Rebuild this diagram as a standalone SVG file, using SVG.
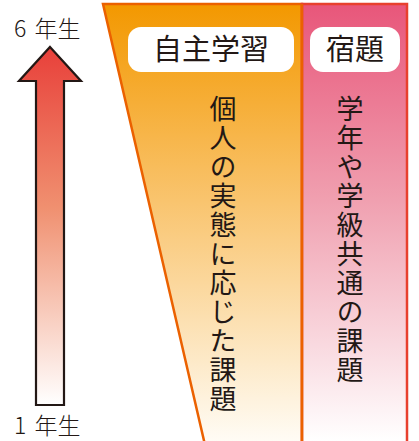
<svg xmlns="http://www.w3.org/2000/svg" width="419" height="441" viewBox="0 0 419 441">
<defs>
<linearGradient id="gArrow" x1="0" y1="47" x2="0" y2="405" gradientUnits="userSpaceOnUse">
<stop offset="0" stop-color="#E8403A"/>
<stop offset="0.45" stop-color="#F09070"/>
<stop offset="1" stop-color="#FFFFFF"/>
</linearGradient>
<linearGradient id="gOrange" x1="0" y1="4" x2="0" y2="441" gradientUnits="userSpaceOnUse">
<stop offset="0" stop-color="#F39800"/>
<stop offset="0.45" stop-color="#F9C46E"/>
<stop offset="1" stop-color="#FFFCF5"/>
</linearGradient>
<linearGradient id="gPink" x1="0" y1="4" x2="0" y2="441" gradientUnits="userSpaceOnUse">
<stop offset="0" stop-color="#E8567A"/>
<stop offset="0.45" stop-color="#F0A0B0"/>
<stop offset="1" stop-color="#FFFFFF"/>
</linearGradient>
</defs>
<style>
.t{font-family:"Noto Sans CJK JP","Noto Sans CJK SC",sans-serif;fill:#231815;}
.lab{font-size:29px;text-anchor:middle;}
.vert{font-size:27px;writing-mode:vertical-rl;letter-spacing:2px;}
.yr{font-size:23px;font-weight:300;word-spacing:3px;}
.box{fill:#FFFFFF;}
</style>
<g id="arrow">
<path d="M50,47 L81,81 L64,81 L64,405 L36,405 L36,81 L19,81 Z" fill="url(#gArrow)" stroke="#231815" stroke-width="2.2" stroke-linejoin="miter"/>
</g>
<g id="label-6">
<text class="t yr" x="14" y="37">6 年生</text>
</g>
<g id="label-1">
<text class="t yr" x="14" y="434">1 年生</text>
</g>
<g id="jishu">
<polygon points="103,4 302,4 302,445 205,445" fill="url(#gOrange)" stroke="#EB6100" stroke-width="2.5"/>
<rect class="box" x="128" y="27" width="166" height="45" rx="13"/>
<text class="t lab" x="211" y="60">自主学習</text>
<text class="t vert" x="223" y="95">個人の実態に応じた課題</text>
</g>
<g id="shukudai">
<rect x="302" y="4" width="105" height="441" fill="url(#gPink)" stroke="#E8402E" stroke-width="2.5"/>
<line x1="302" y1="4" x2="302" y2="441" stroke="#EB6100" stroke-width="2.5"/>
<rect class="box" x="310" y="27" width="90" height="45" rx="13"/>
<text class="t lab" x="355" y="60">宿題</text>
<text class="t vert" x="350" y="95">学年や学級共通の課題</text>
</g>
</svg>
